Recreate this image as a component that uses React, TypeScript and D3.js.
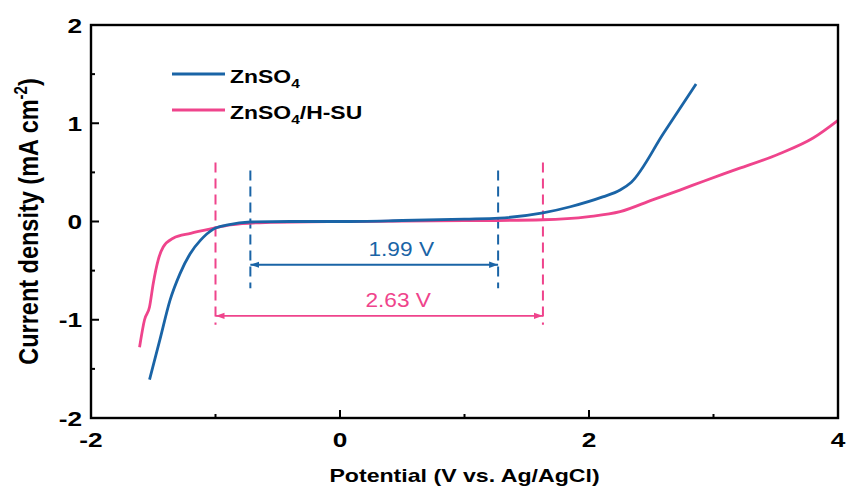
import React, { useEffect } from "react";
import * as d3 from "d3";

// LSV curves (potential in V vs. Ag/AgCl, current density in mA cm^-2)
const znso4X = [-1.53, -1.446, -1.365, -1.285, -1.205, -1.12, -1.02, -0.9, -0.72, -0.4, 0, 0.5, 1.0, 1.28, 1.63, 1.85, 2.11, 2.25, 2.34, 2.6, 2.86];
const znso4Y = [-1.61, -1.2, -0.8, -0.53, -0.33, -0.19, -0.08, -0.035, -0.005, 0, 0, 0.01, 0.025, 0.035, 0.087, 0.15, 0.25, 0.32, 0.4, 0.9, 1.4];

const hsuX = [-1.61, -1.57, -1.53, -1.5, -1.46, -1.42, -1.34, -1.2, -1.02, -0.88, -0.6, 0, 0.5, 1.0, 1.63, 2.0, 2.25, 2.51, 2.73, 2.92, 3.16, 3.53, 3.8, 4.0];
const hsuY = [-1.28, -1.0, -0.87, -0.63, -0.39, -0.26, -0.17, -0.12, -0.07, -0.035, -0.01, 0, 0.003, 0.008, 0.018, 0.05, 0.1, 0.22, 0.32, 0.41, 0.52, 0.69, 0.85, 1.03];

// Stability window markers
const windowBlue = [-0.72, 1.27];
const windowPink = [-1.0, 1.63];
const windowLabels = ["1.99 V", "2.63 V"];

const xTicks = [-2, 0, 2, 4];
const xMinor = [-1, 1, 3];
const yTicks = [-2, -1, 0, 1, 2];
const yMinor = [-1.5, -0.5, 0.5, 1.5];

const BLUE = "#1a64a6";
const PINK = "#ef448c";
const FONT = "Liberation Sans, Arial, sans-serif";
const SX = 1.25; // horizontal widening of the lettering

type STextProps = {
  x: number;
  y: number;
  anchor?: "start" | "middle" | "end";
  size: number;
  bold?: boolean;
  fill?: string;
  sx?: number;
  children: React.ReactNode;
};

function SText({ x, y, anchor = "start", size, bold = true, fill = "#000", sx = SX, children }: STextProps) {
  return (
    <text
      transform={`translate(${x},${y}) scale(${sx},1)`}
      textAnchor={anchor}
      fontFamily={FONT}
      fontWeight={bold ? "bold" : "normal"}
      fontSize={size}
      fill={fill}
    >
      {children}
    </text>
  );
}

export default function App() {
  useEffect(() => {
    document.body.style.margin = "0";
  }, []);

  const W = 848, H = 494;
  const left = 91, right = 838, top = 25, bottom = 418;
  const x = d3.scaleLinear().domain([-2, 4]).range([left, right]);
  const y = d3.scaleLinear().domain([-2, 2]).range([bottom, top]);

  const line = d3
    .line<[number, number]>()
    .x((d) => x(d[0]))
    .y((d) => y(d[1]))
    .curve(d3.curveMonotoneX);

  const blueData = znso4X.map((v, i) => [v, znso4Y[i]] as [number, number]);
  const pinkData = hsuX.map((v, i) => [v, hsuY[i]] as [number, number]);

  const arrowBlueY = -0.44;
  const arrowPinkY = -0.96;
  const fmt = (t: number) => (t < 0 ? "-" + Math.abs(t) : String(t));

  return (
    <svg width={W} height={H} style={{ display: "block", background: "#fff" }}>
      <defs>
        <marker id="ab" viewBox="0 0 10 10" refX="10" refY="5" markerWidth="5" markerHeight="5" orient="auto-start-reverse">
          <path d="M0,1.5 L10,5 L0,8.5 z" fill={BLUE} />
        </marker>
        <marker id="ap" viewBox="0 0 10 10" refX="10" refY="5" markerWidth="5" markerHeight="5" orient="auto-start-reverse">
          <path d="M0,1.5 L10,5 L0,8.5 z" fill={PINK} />
        </marker>
      </defs>

      {/* dashed window boundaries */}
      {windowBlue.map((v, i) => (
        <line key={"bd" + i} x1={x(v)} x2={x(v)} y1={y(0.52)} y2={y(-0.68)} stroke={BLUE} strokeWidth={2} strokeDasharray="10,6" />
      ))}
      {windowPink.map((v, i) => (
        <line key={"pd" + i} x1={x(v)} x2={x(v)} y1={y(0.6)} y2={y(-1.05)} stroke={PINK} strokeWidth={2} strokeDasharray="10,6" />
      ))}

      {/* curves */}
      <path d={line(pinkData) || ""} fill="none" stroke={PINK} strokeWidth={2.8} strokeLinejoin="round" />
      <path d={line(blueData) || ""} fill="none" stroke={BLUE} strokeWidth={2.8} strokeLinejoin="round" />

      {/* window arrows */}
      <line x1={x(windowBlue[0])} x2={x(windowBlue[1])} y1={y(arrowBlueY)} y2={y(arrowBlueY)} stroke={BLUE} strokeWidth={1.8} markerStart="url(#ab)" markerEnd="url(#ab)" />
      <line x1={x(windowPink[0])} x2={x(windowPink[1])} y1={y(arrowPinkY)} y2={y(arrowPinkY)} stroke={PINK} strokeWidth={1.8} markerStart="url(#ap)" markerEnd="url(#ap)" />
      <SText x={(x(windowBlue[0]) + x(windowBlue[1])) / 2 + 27} y={y(arrowBlueY) - 9} anchor="middle" size={21} bold={false} fill={BLUE} sx={1.08}>
        {windowLabels[0]}
      </SText>
      <SText x={(x(windowPink[0]) + x(windowPink[1])) / 2 + 19} y={y(arrowPinkY) - 9} anchor="middle" size={21} bold={false} fill={PINK} sx={1.08}>
        {windowLabels[1]}
      </SText>

      {/* frame */}
      <rect x={left} y={top} width={right - left} height={bottom - top} fill="none" stroke="#000" strokeWidth={2.4} />

      {/* x ticks */}
      {xTicks.map((t) => (
        <g key={"xt" + t}>
          <line x1={x(t)} x2={x(t)} y1={bottom} y2={bottom - 8} stroke="#000" strokeWidth={2} />
          <SText x={x(t)} y={bottom + 29} anchor="middle" size={21}>
            {fmt(t)}
          </SText>
        </g>
      ))}
      {xMinor.map((t) => (
        <line key={"xm" + t} x1={x(t)} x2={x(t)} y1={bottom} y2={bottom - 4} stroke="#000" strokeWidth={2} />
      ))}

      {/* y ticks */}
      {yTicks.map((t) => (
        <g key={"yt" + t}>
          <line x1={left} x2={left + 8} y1={y(t)} y2={y(t)} stroke="#000" strokeWidth={2} />
          <SText x={left - 9} y={y(t) + 7.5} anchor="end" size={21}>
            {fmt(t)}
          </SText>
        </g>
      ))}
      {yMinor.map((t) => (
        <line key={"ym" + t} x1={left} x2={left + 4} y1={y(t)} y2={y(t)} stroke="#000" strokeWidth={2} />
      ))}

      {/* axis titles */}
      <SText x={(left + right) / 2} y={482} anchor="middle" size={18.5}>
        Potential (V vs. Ag/AgCl)
      </SText>
      <text
        transform={`translate(38,${y(0)}) rotate(-90) scale(1,1.18)`}
        textAnchor="middle"
        fontFamily={FONT}
        fontWeight="bold"
        fontSize={23.5}
      >
        Current density (mA cm<tspan dy={-9} fontSize={15}>-2</tspan>
        <tspan dy={9}>)</tspan>
      </text>

      {/* legend */}
      <line x1={172} x2={225} y1={74} y2={74} stroke={BLUE} strokeWidth={2.8} />
      <SText x={230} y={83} size={18.5} sx={1.24}>
        ZnSO<tspan dy={5} fontSize={12.5}>4</tspan>
      </SText>
      <line x1={172} x2={225} y1={110} y2={110} stroke={PINK} strokeWidth={2.8} />
      <SText x={230} y={119} size={18.5} sx={1.24}>
        ZnSO<tspan dy={5} fontSize={12.5}>4</tspan>
        <tspan dy={-5}>/H-SU</tspan>
      </SText>
    </svg>
  );
}
